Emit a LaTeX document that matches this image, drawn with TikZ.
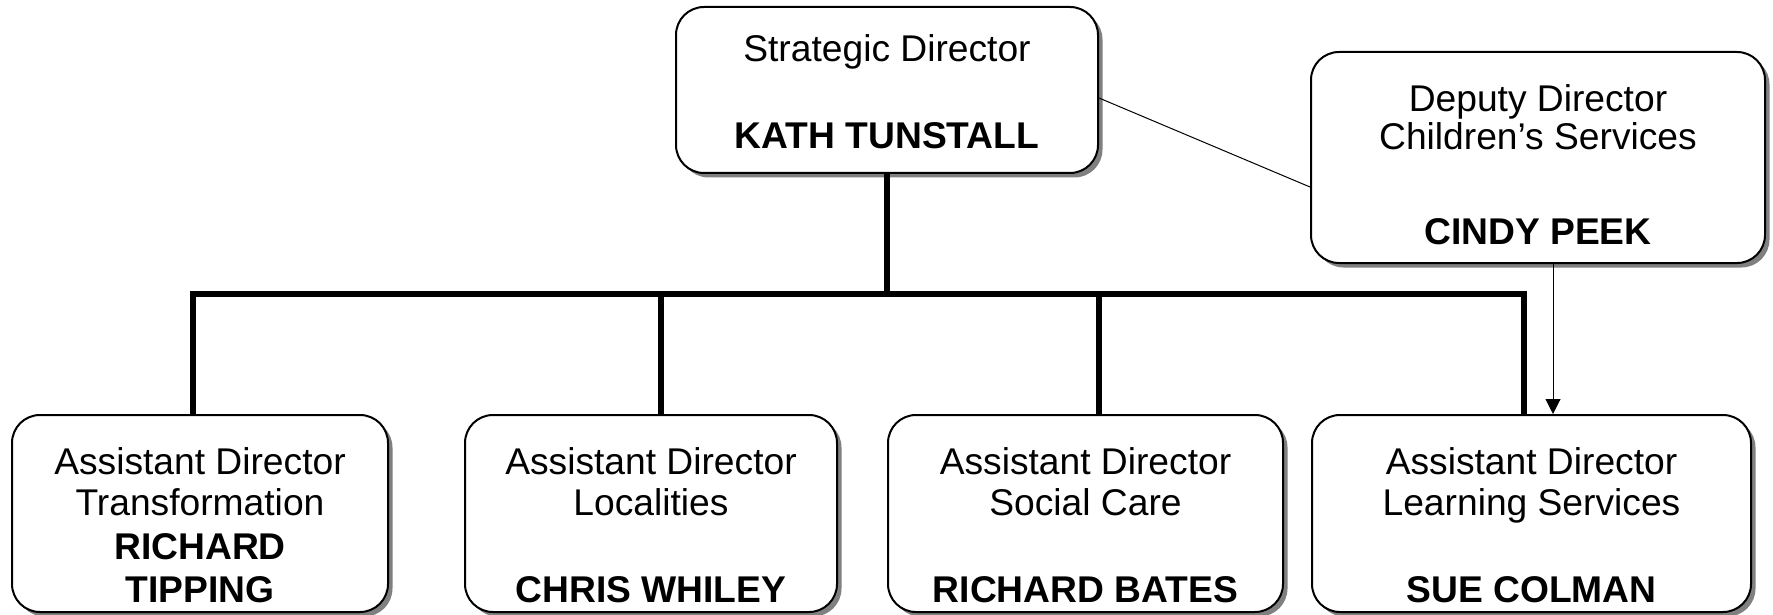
\documentclass[tikz,border=0pt]{standalone}
\usepackage{fontspec}
\setmainfont{Liberation Sans}
\usetikzlibrary{shadows,arrows.meta}

\begin{document}
\begin{tikzpicture}[x=0.5pt,y=-0.5pt,
		box/.style={draw=black, line width=1pt, fill=white, rounded corners=14pt, inner sep=0pt,
			drop shadow={shadow xshift=2.25pt, shadow yshift=-2.25pt, fill=black!50, opacity=1}},
		txt/.style={anchor=north, align=center, inner sep=0pt, font=\fontsize{18.6}{20.5}\selectfont},
		bus/.style={line width=2.75pt},
		link/.style={line width=0.5pt}]
		\useasboundingbox (0,0) rectangle (1773,615);

		%draw boxes
		\node[box, minimum width=211pt, minimum height=83pt] (sd) at (887,90) {};
		\node[box, minimum width=227pt, minimum height=105.5pt] (dd) at (1538,157.5) {};
		\foreach \n/\x/\w in {ad1/200/188, ad2/651/186, ad3/1085.5/197.5, ad4/1531.5/219.5}
		\node[box, minimum width=\w pt, minimum height=98.5pt] (\n) at (\x,513.5) {};

		%titles & names
		\node[txt] (sd-t) at (887,34) {Strategic Director\\[23pt]\textbf{KATH TUNSTALL}};
		\node[txt] (dd-t) at (1538,84) {Deputy Director\\[-1.5pt]Children’s Services\\[27pt]\textbf{CINDY PEEK}};
		\node[txt] (ad1-t) at (200,447) {Assistant Director\\Transformation\\[1.75pt]\textbf{RICHARD}\\[0.75pt]\textbf{TIPPING}};
		\node[txt] (ad2-t) at (651,447) {Assistant Director\\Localities\\[23pt]\textbf{CHRIS WHILEY}};
		\node[txt] (ad3-t) at (1085.5,447) {Assistant Director\\Social Care\\[23pt]\textbf{RICHARD BATES}};
		\node[txt] (ad4-t) at (1531.5,447) {Assistant Director\\Learning Services\\[23pt]\textbf{SUE COLMAN}};

		%draw bus
		\coordinate (b1) at (193,294);
		\coordinate (b2) at (661,294);
		\coordinate (b3) at (1099,294);
		\coordinate (b4) at (1524,294);
		\draw[bus] (sd.south) -- (sd.south |- b1);
		\draw[bus] (b1 |- ad1.north) -- (b1) -- (b4) -- (b4 |- ad4.north);
		\draw[bus] (b2) -- (b2 |- ad2.north);
		\draw[bus] (b3) -- (b3 |- ad3.north);

		%deputy links
		\coordinate (arr) at (1553,263);
		\draw[link] ([yshift=-4pt]sd.east) -- ([yshift=-14.75pt]dd.west);
		\draw[link, -{Triangle[length=7.5pt,width=7.5pt]}] (dd.south -| arr) -- (ad4.north -| arr);

\end{tikzpicture}
\end{document}
